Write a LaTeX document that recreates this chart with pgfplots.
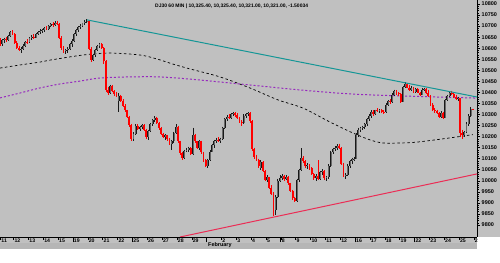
\documentclass[border=0pt]{standalone}
\usepackage{fontspec}
\setmainfont{Liberation Sans}
\usepackage{pgfplots}
\usepackage{pgfplotstable}
\pgfplotsset{compat=1.18}
\definecolor{bg}{RGB}{192,192,192}
\definecolor{band}{RGB}{182,182,182}
\definecolor{tealline}{RGB}{20,150,150}
\definecolor{supline}{RGB}{235,45,85}
\definecolor{maviolet}{RGB}{150,40,190}
\definecolor{upc}{RGB}{25,25,25}
\definecolor{upin}{RGB}{105,105,105}
\pgfplotstableread{
i o h l c
0 10630 10645 10612 10620
1 10620 10640 10610 10635
2 10635 10648 10625 10640
3 10640 10650 10630 10638
4 10638 10660 10632 10655
5 10655 10678 10650 10672
6 10672 10680 10660 10664
7 10664 10668 10620 10625
8 10625 10632 10598 10602
9 10602 10610 10585 10590
10 10590 10605 10578 10598
11 10598 10618 10592 10612
12 10612 10632 10605 10628
13 10628 10640 10620 10627
14 10627 10650 10622 10645
15 10645 10658 10636 10652
16 10652 10662 10640 10648
17 10648 10668 10645 10664
18 10664 10676 10658 10672
19 10672 10685 10665 10678
20 10678 10688 10670 10681
21 10681 10695 10675 10690
22 10690 10700 10680 10686
23 10686 10705 10682 10700
24 10700 10712 10695 10708
25 10708 10718 10698 10704
26 10704 10722 10700 10716
27 10716 10725 10705 10710
28 10710 10714 10640 10648
29 10648 10655 10592 10600
30 10600 10608 10578 10585
31 10585 10598 10575 10592
32 10592 10605 10580 10598
33 10598 10625 10594 10618
34 10618 10640 10605 10632
35 10632 10668 10628 10662
36 10662 10688 10655 10682
37 10682 10700 10675 10695
38 10695 10710 10688 10702
39 10702 10716 10698 10712
40 10712 10728 10705 10720
41 10720 10732 10714 10725
42 10725 10728 10590 10598
43 10598 10605 10538 10548
44 10548 10575 10540 10570
45 10570 10598 10562 10592
46 10592 10615 10585 10608
47 10608 10625 10600 10618
48 10618 10622 10595 10603
49 10603 10606 10530 10540
50 10540 10545 10400 10410
51 10410 10425 10388 10398
52 10398 10435 10392 10428
53 10428 10434 10400 10405
54 10405 10410 10385 10392
55 10392 10402 10380 10390
56 10360 10395 10312 10385
57 10385 10390 10355 10362
58 10362 10368 10335 10340
59 10340 10346 10312 10318
60 10318 10322 10285 10290
61 10290 10294 10245 10252
62 10252 10258 10180 10190
63 10190 10220 10178 10212
64 10212 10255 10208 10248
65 10248 10255 10228 10235
66 10235 10248 10225 10242
67 10242 10258 10236 10252
68 10252 10256 10225 10230
69 10230 10236 10190 10198
70 10198 10232 10185 10225
71 10225 10262 10220 10255
72 10255 10280 10250 10275
73 10275 10292 10268 10285
74 10285 10290 10258 10262
75 10262 10266 10232 10238
76 10238 10242 10205 10212
77 10212 10218 10192 10198
78 10198 10210 10185 10205
79 10205 10208 10182 10188
80 10188 10192 10160 10165
81 10165 10185 10140 10178
82 10178 10222 10172 10215
83 10215 10255 10210 10242
84 10242 10250 10170 10178
85 10178 10182 10115 10125
86 10125 10132 10095 10105
87 10105 10140 10100 10135
88 10135 10150 10128 10140
89 10140 10155 10132 10148
90 10148 10152 10115 10122
91 10122 10240 10118 10205
92 10205 10212 10170 10178
93 10178 10182 10145 10150
94 10150 10185 10140 10178
95 10178 10182 10120 10128
96 10128 10132 10085 10092
97 10092 10098 10062 10068
98 10068 10100 10060 10095
99 10095 10140 10090 10132
100 10132 10168 10128 10160
101 10160 10185 10150 10178
102 10178 10195 10170 10185
103 10185 10198 10175 10180
104 10180 10195 10172 10188
105 10188 10245 10185 10240
106 10240 10285 10235 10280
107 10280 10298 10272 10290
108 10290 10302 10280 10285
109 10285 10305 10280 10300
110 10300 10310 10292 10305
111 10305 10310 10290 10297
112 10297 10305 10280 10285
113 10285 10290 10262 10268
114 10268 10275 10250 10262
115 10262 10300 10258 10295
116 10295 10305 10285 10300
117 10300 10312 10292 10305
118 10305 10310 10262 10270
119 10270 10275 10135 10142
120 10142 10150 10100 10108
121 10108 10118 10088 10095
122 10095 10100 10060 10068
123 10060 10092 10050 10085
124 10085 10088 10040 10045
125 10045 10050 9998 10004
126 10004 10025 9995 10015
127 10015 10018 9962 9968
128 9968 9980 9935 9942
129 9942 9948 9840 9870
130 9870 9935 9845 9925
131 9925 10010 9920 10000
132 10000 10025 9995 10012
133 10012 10030 10005 10022
134 10022 10028 10000 10008
135 10008 10025 10002 10018
136 10018 10020 9982 9988
137 9988 9992 9950 9955
138 9955 9960 9915 9920
139 9920 9928 9902 9910
140 9910 10010 9905 10002
141 10002 10055 9995 10048
142 10048 10148 10042 10105
143 10105 10110 10082 10088
144 10088 10095 10060 10065
145 10065 10080 10055 10072
146 10072 10076 10050 10058
147 10058 10062 10025 10030
148 10030 10034 10005 10012
149 10012 10030 10000 10022
150 10022 10094 10002 10008
151 10008 10045 10004 10038
152 10038 10052 10028 10045
153 10045 10048 10005 10012
154 10012 10022 10000 10015
155 10015 10075 10010 10068
156 10068 10135 10062 10128
157 10128 10150 10120 10142
158 10142 10158 10135 10150
159 10150 10165 10140 10158
160 10158 10168 10145 10150
161 10150 10152 10070 10078
162 10078 10082 10015 10022
163 10022 10035 10008 10028
164 10028 10075 10022 10068
165 10068 10095 10060 10088
166 10088 10105 10075 10098
167 10098 10108 10090 10100
168 10100 10215 10098 10208
169 10208 10240 10200 10232
170 10232 10245 10222 10238
171 10238 10250 10228 10242
172 10242 10262 10236 10258
173 10258 10285 10250 10278
174 10278 10300 10270 10292
175 10292 10318 10285 10312
176 10312 10320 10295 10300
177 10300 10322 10296 10318
178 10318 10328 10310 10315
179 10315 10325 10305 10320
180 10320 10324 10305 10310
181 10310 10318 10302 10309
182 10309 10352 10305 10345
183 10345 10365 10340 10360
184 10360 10368 10348 10355
185 10355 10395 10350 10388
186 10388 10412 10382 10405
187 10405 10410 10388 10395
188 10395 10402 10385 10393
189 10393 10396 10352 10358
190 10358 10430 10355 10425
191 10425 10445 10418 10438
192 10438 10442 10418 10422
193 10422 10432 10405 10410
194 10410 10428 10405 10420
195 10420 10425 10398 10402
196 10402 10422 10398 10415
197 10415 10418 10395 10398
198 10398 10402 10385 10390
199 10390 10418 10386 10412
200 10412 10422 10405 10415
201 10415 10420 10392 10398
202 10398 10412 10380 10385
203 10385 10388 10340 10345
204 10345 10350 10315 10320
205 10320 10328 10308 10315
206 10315 10322 10300 10305
207 10305 10310 10285 10290
208 10290 10315 10286 10308
209 10308 10312 10280 10285
210 10285 10372 10282 10365
211 10365 10390 10360 10385
212 10385 10405 10378 10398
213 10398 10408 10388 10392
214 10392 10400 10375 10380
215 10380 10390 10365 10370
216 10370 10380 10362 10374
217 10374 10374 10200 10215
218 10215 10232 10190 10205
219 10205 10225 10196 10220
220 10220 10265 10215 10258
221 10258 10300 10250 10292
222 10292 10334 10288 10325
223 10325.4 10325.4 10321 10321
}\bars
\pgfplotstableread{
i p
0.09 10510
9.5 10524
18.9 10537
23.7 10546
39.2 10569
51.9 10578
66.1 10569
74.1 10551
81.6 10528
89.7 10506
103.8 10470
117.9 10420
131.1 10366
142.9 10329
155.6 10266
166.5 10216
174.5 10185
180.6 10171
188.6 10171
196.7 10175
212.2 10194
221.6 10207
223 10209
}\maslow
\pgfplotstableread{
i p
0.09 10375
9.5 10397
18.9 10420
28.4 10438
37.8 10451
47.2 10465
61.4 10470
75.5 10470
89.7 10460
103.8 10447
122.6 10429
141.5 10411
165.1 10393
188.6 10384
221.6 10375
223 10375
}\mapurple
\begin{document}
\begin{tikzpicture}
\path[use as bounding box] (0,0) rectangle (500bp,263bp);
\fill[white] (0,0) rectangle (500bp,263bp);
\fill[bg] (0,26bp) rectangle (500bp,263bp);
\fill[bg] (0,14bp) rectangle (477bp,26bp);
\fill[band] (0,14bp) rectangle (477bp,19.5bp);
\begin{axis}[
  at={(0bp,263bp)}, anchor=north west,
  scale only axis, width=477bp, height=237bp,
  xmin=0.09, xmax=224.94, ymin=9745.6, ymax=10818,
  axis x line*=bottom, axis y line*=right,
  axis line style={black, line width=0.7bp},
  tick align=outside,
  major tick length=3bp, minor tick length=1.8bp,
  tick style={black, line width=0.5bp},
  scaled y ticks=false,
  ytick={9800,9850,...,10800},
  minor y tick num=4,
  /pgf/number format/assume math mode=true,
  /pgf/number format/1000 sep={},
  yticklabel style={font=\fontsize{5.5}{6}\selectfont\bfseries, anchor=west, inner sep=0pt, xshift=1.5bp, /pgf/number format/fixed},
  xtick={0.3,6.5,13.5,20.5,27.5,34.5,41.5,48.5,55.5,62.5,69.5,76.5,83.5,90.5,97.5,104.5,111.5,118.5,125.5,132.5,139.5,146.5,153.5,160.5,167.5,174.5,181.5,188.5,195.5,202.5,209.5,216.5,223.5},
  xticklabels={11,12,13,14,15,19,20,21,22,25,26,27,28,29,{},2,3,4,5,8,9,10,11,12,16,17,18,19,22,23,24,25,2},
  xticklabel style={font=\fontsize{5.2}{5.5}\selectfont\bfseries, anchor=north west, inner sep=0pt, xshift=0.8bp, yshift=1.2bp},
  extra x ticks={34.5,62.5,97.5,132.5,167.5,195.5},
  extra x tick labels={},
  extra x tick style={major tick length=5.5bp, tick style={line width=0.8bp}},
]
% moving averages
\addplot[black, line width=0.7bp, dash pattern=on 2.5bp off 2.5bp, smooth] table[x=i, y=p] {\maslow};
\addplot[maviolet, line width=1bp, dash pattern=on 2bp off 2bp, smooth] table[x=i, y=p] {\mapurple};
% wicks
\addplot[draw=none, mark=none, x filter/.expression={\thisrow{c}<\thisrow{o} ? x : nan},
  error bars/.cd, y dir=minus, y explicit, error mark=none,
  error bar style={draw=red, line width=0.6bp}]
  table[x=i, y=h, y error minus expr=\thisrow{h}-\thisrow{l}] {\bars};
\addplot[draw=none, mark=none, x filter/.expression={\thisrow{c}<\thisrow{o} ? nan : x},
  error bars/.cd, y dir=minus, y explicit, error mark=none,
  error bar style={draw=upc, line width=0.6bp}]
  table[x=i, y=h, y error minus expr=\thisrow{h}-\thisrow{l}] {\bars};
% bodies
\addplot[draw=none, mark=none, x filter/.expression={\thisrow{c}<\thisrow{o} ? x : nan},
  error bars/.cd, y dir=minus, y explicit, error mark=none,
  error bar style={draw=red, line width=1.9bp}]
  table[x=i, y=o, y error minus expr=\thisrow{o}-\thisrow{c}] {\bars};
\addplot[draw=none, mark=none, x filter/.expression={\thisrow{c}<\thisrow{o} ? nan : x},
  error bars/.cd, y dir=minus, y explicit, error mark=none,
  error bar style={draw=upc, line width=1.9bp}]
  table[x=i, y=c, y error minus expr=\thisrow{c}-\thisrow{o}] {\bars};
\addplot[draw=none, mark=none, x filter/.expression={\thisrow{c}<\thisrow{o} ? nan : x},
  error bars/.cd, y dir=minus, y explicit, error mark=none,
  error bar style={draw=upin, line width=0.5bp}]
  table[x=i, y=c, y error minus expr=\thisrow{c}-\thisrow{o}] {\bars};
% trend lines
\addplot[tealline, line width=1bp] coordinates {(41.1,10728) (224.94,10379)};
\addplot[supline, line width=1bp] coordinates {(84.94,9745.6) (224.94,10031)};
\end{axis}
\node[anchor=west, inner sep=0pt, font=\fontsize{5}{5}\selectfont\bfseries] at (155bp,257bp) {DJ30 60 MIN | 10,325.40, 10,325.40, 10,321.00, 10,321.00, -1.50034};
\node[anchor=north west, inner sep=0pt, font=\fontsize{5.5}{5.5}\selectfont\bfseries] at (208bp,20.3bp) {February};
\end{tikzpicture}
\end{document}
